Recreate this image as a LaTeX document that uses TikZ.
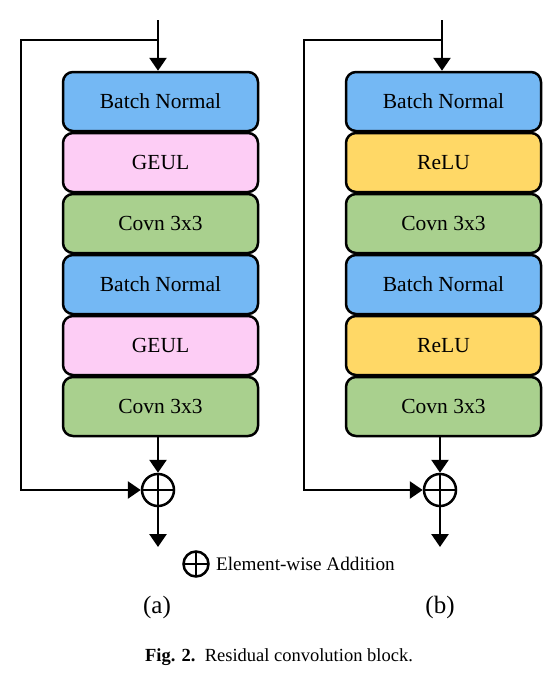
\documentclass[tikz,border=0pt]{standalone}
\usepackage{fontspec}
\setmainfont{Liberation Serif}
\usetikzlibrary{positioning,arrows.meta}
\definecolor{bnblue}{RGB}{116,184,244}
\definecolor{geulpink}{RGB}{253,205,245}
\definecolor{convgreen}{RGB}{169,208,142}
\definecolor{reluyellow}{RGB}{255,216,102}
\begin{document}
\begin{tikzpicture}[x=1pt, y=-1pt, line width=2.7pt,
    > = {Triangle[width=17pt,length=13pt]},
    every node/.style={font=\fontsize{21.5}{25}\selectfont},
    layer/.style={draw, rounded corners=10pt, minimum width=195pt,
        minimum height=59pt, inner sep=0pt, line width=2.5pt},
    bnorm/.style={layer, fill=bnblue},
    geul/.style={layer, fill=geulpink},
    relu/.style={layer, fill=reluyellow},
    conv/.style={layer, fill=convgreen},
    addop/.style={draw, circle, inner sep=0pt, minimum size=32pt, line width=2.5pt,
        path picture={\draw[line width=2.5pt]
            (path picture bounding box.north) -- (path picture bounding box.south)
            (path picture bounding box.west) -- (path picture bounding box.east);}}]
    \useasboundingbox (0,0) rectangle (559,680);

    % (a) block with GEUL
    \node[bnorm] (bnA1) at (160.5,101.5) {Batch Normal};
    \node[geul] (geulA1) at (160.5,162.5) {GEUL};
    \node[conv] (convA1) at (160.5,223.5) {Covn 3x3};
    \node[bnorm] (bnA2) at (160.5,284.5) {Batch Normal};
    \node[geul] (geulA2) at (160.5,345.5) {GEUL};
    \node[conv] (convA2) at (160.5,406.5) {Covn 3x3};
    \node[addop] (addA) at (158,490) {};
    \coordinate (inA) at (158,20);
    \coordinate (skipA) at (158,40);
    \coordinate (leftA) at (21,40);
    \coordinate (outA) at (158,547);

    \draw[->] (inA) -- (inA |- bnA1.north);
    \draw[->] (skipA) -- (leftA) |- (addA.west);
    \draw[->] (convA2.south -| addA) -- (addA.north);
    \draw[->] (addA.south) -- (outA);

    % (b) block with ReLU
    \node[bnorm] (bnB1) at (443.5,101.5) {Batch Normal};
    \node[relu] (reluB1) at (443.5,162.5) {ReLU};
    \node[conv] (convB1) at (443.5,223.5) {Covn 3x3};
    \node[bnorm] (bnB2) at (443.5,284.5) {Batch Normal};
    \node[relu] (reluB2) at (443.5,345.5) {ReLU};
    \node[conv] (convB2) at (443.5,406.5) {Covn 3x3};
    \node[addop] (addB) at (440,490) {};
    \coordinate (inB) at (442,20);
    \coordinate (skipB) at (442,40);
    \coordinate (leftB) at (304,40);
    \coordinate (outB) at (440,547);

    \draw[->] (inB) -- (inB |- bnB1.north);
    \draw[->] (skipB) -- (leftB) |- (addB.west);
    \draw[->] (convB2.south -| addB) -- (addB.north);
    \draw[->] (addB.south) -- (outB);

    % legend and labels
    \node[addop, minimum size=25pt] (legOp) at (196,564) {};
    \node[right=5pt of legOp, inner sep=0pt, font=\fontsize{19.2}{23}\selectfont] (legTxt) {Element-wise Addition};
    \node[font=\fontsize{25}{29}\selectfont] (labA) at (157,607) {(a)};
    \node[font=\fontsize{25}{29}\selectfont] (labB) at (440,607) {(b)};
    \node[font=\fontsize{18.5}{22}\selectfont] (caption) at (279,657)
        {\textbf{Fig. 2.}\enspace Residual convolution block.};
\end{tikzpicture}
\end{document}
